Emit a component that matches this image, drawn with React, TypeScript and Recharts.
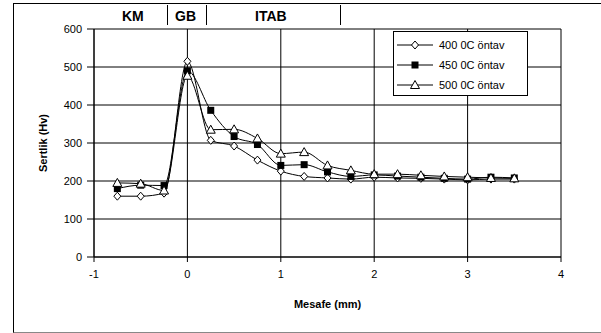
import React from "react"
import { LineChart, Line, XAxis, YAxis, CartesianGrid, Legend } from "recharts"

const mesafe = [-0.75, -0.5, -0.25, 0, 0.25, 0.5, 0.75, 1, 1.25, 1.5, 1.75, 2, 2.25, 2.5, 2.75, 3, 3.25, 3.5]
const s400 = [160, 160, 168, 515, 307, 292, 255, 226, 212, 208, 205, 210, 208, 207, 205, 203, 205, 205]
const s450 = [180, 189, 188, 490, 386, 317, 296, 241, 243, 224, 212, 216, 213, 210, 207, 205, 210, 208]
const s500 = [195, 193, 175, 477, 335, 336, 312, 272, 276, 241, 228, 218, 218, 215, 212, 210, 208, 207]

const xTicks = [-1, 0, 1, 2, 3, 4]
const yTicks = [0, 100, 200, 300, 400, 500, 600]
const zones = ["KM", "GB", "ITAB"]
const seriesNames = ["400 0C öntav", "450 0C öntav", "500 0C öntav"]

const data = mesafe.map((x, i) => ({ x, a: s400[i], b: s450[i], c: s500[i] }))

const font = "'Liberation Sans', Arial, sans-serif"

function Diamond({ cx, cy }: any) {
  if (cx == null || cy == null) return null
  return (
    <polygon
      points={`${cx},${cy - 4} ${cx + 3.5},${cy} ${cx},${cy + 4} ${cx - 3.5},${cy}`}
      fill="#fff"
      stroke="#000"
      strokeWidth={1}
    />
  )
}

function Square({ cx, cy }: any) {
  if (cx == null || cy == null) return null
  return <rect x={cx - 3.5} y={cy - 3.5} width={7} height={7} fill="#000" />
}

function Triangle({ cx, cy }: any) {
  if (cx == null || cy == null) return null
  return (
    <polygon
      points={`${cx},${cy - 4.5} ${cx + 4.5},${cy + 3.5} ${cx - 4.5},${cy + 3.5}`}
      fill="#fff"
      stroke="#000"
      strokeWidth={1}
    />
  )
}

const markers = [Diamond, Square, Triangle]

function LegendBox() {
  return (
    <div
      style={{
        width: 135,
        height: 65,
        border: "1px solid #000",
        background: "#fff",
        boxSizing: "border-box",
        fontFamily: font,
        fontSize: 11,
        paddingTop: 3,
      }}
    >
      {seriesNames.map((name, i) => {
        const M = markers[i]
        return (
          <div key={name} style={{ display: "flex", alignItems: "center", height: 20 }}>
            <svg width={42} height={12} style={{ marginLeft: 3 }}>
              <line x1={0} y1={6} x2={36} y2={6} stroke="#000" />
              <M cx={18} cy={6} />
            </svg>
            <span>{name}</span>
          </div>
        )
      })}
    </div>
  )
}

export default function App() {
  return (
    <div style={{ position: "absolute", left: 0, top: 0, width: 601, height: 333, background: "#fff" }}>
      <div
        style={{
          position: "absolute",
          left: 13,
          top: 3,
          width: 601 - 13,
          height: 328,
          borderLeft: "1px solid #000",
          borderTop: "1px solid #000",
          borderBottom: "1px solid #888",
        }}
      />
      <LineChart
        width={601}
        height={333}
        data={data}
        margin={{ top: 29, right: 40, bottom: 46, left: 0 }}
        style={{ position: "absolute", left: 0, top: 0, fontFamily: font }}
      >
        <CartesianGrid stroke="#000" strokeWidth={1} />
        <XAxis
          dataKey="x"
          type="number"
          domain={[-1, 4]}
          ticks={xTicks}
          height={30}
          stroke="#000"
          tickSize={5}
          tickMargin={8}
          tick={{ fill: "#000", fontSize: 11 }}
          label={{ value: "Mesafe (mm)", position: "bottom", offset: 13, fill: "#000", fontSize: 11, fontWeight: "bold" }}
        />
        <YAxis
          type="number"
          domain={[0, 600]}
          ticks={yTicks}
          width={94}
          stroke="#000"
          tickSize={7}
          tickMargin={5}
          tick={{ fill: "#000", fontSize: 11 }}
          label={{ value: "Sertlik (Hv)", angle: -90, position: "center", dx: -4, fill: "#000", fontSize: 11, fontWeight: "bold" }}
        />
        <Legend
          layout="vertical"
          align="center"
          verticalAlign="middle"
          content={() => <LegendBox />}
          wrapperStyle={{ left: 393, top: 31, width: 135, height: 65 }}
        />
        <Line type="monotone" dataKey="a" name={seriesNames[0]} stroke="#000" strokeWidth={1} dot={<Diamond />} isAnimationActive={false} />
        <Line type="monotone" dataKey="b" name={seriesNames[1]} stroke="#000" strokeWidth={1} dot={<Square />} isAnimationActive={false} />
        <Line type="monotone" dataKey="c" name={seriesNames[2]} stroke="#000" strokeWidth={1} dot={<Triangle />} isAnimationActive={false} />
      </LineChart>
      <div style={{ position: "absolute", left: 0, top: 0, width: 601, height: 30, fontFamily: font, fontWeight: "bold", fontSize: 14 }}>
        <span style={{ position: "absolute", left: 122, top: 8 }}>{zones[0]}</span>
        <span style={{ position: "absolute", left: 175, top: 8 }}>{zones[1]}</span>
        <span style={{ position: "absolute", left: 255, top: 8 }}>{zones[2]}</span>
        {[167, 206, 340].map((x) => (
          <div key={x} style={{ position: "absolute", left: x, top: 5, width: 1, height: 20, background: "#000" }} />
        ))}
      </div>
    </div>
  )
}
